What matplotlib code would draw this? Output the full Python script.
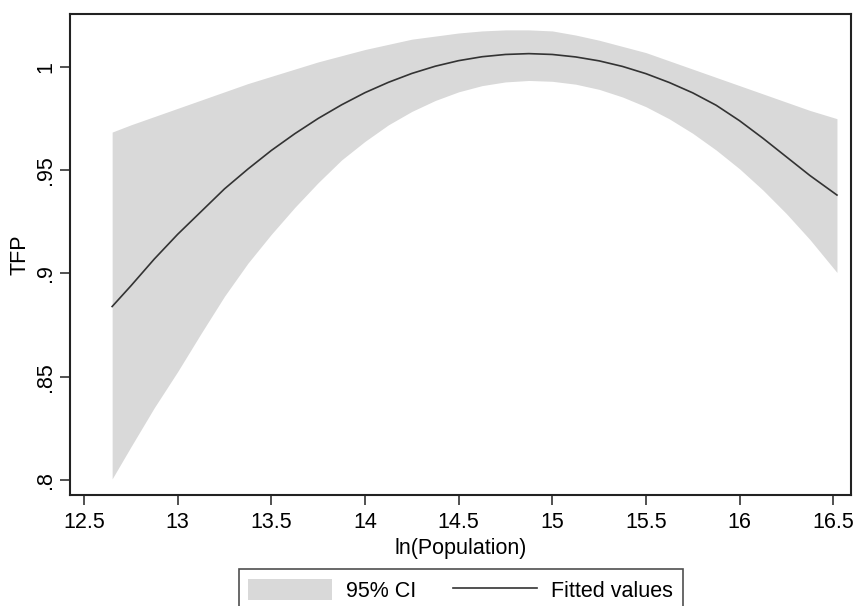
import matplotlib
matplotlib.use("Agg")
import matplotlib.pyplot as plt

plt.rcParams['font.family'] = ['Liberation Sans', 'DejaVu Sans']

# values (ln population, TFP)
ln_pop = [12.65, 12.75, 12.875, 13.0, 13.125, 13.25, 13.375, 13.5, 13.625,
          13.75, 13.875, 14.0, 14.125, 14.25, 14.375, 14.5, 14.625, 14.75,
          14.875, 15.0, 15.125, 15.25, 15.375, 15.5, 15.625, 15.75, 15.875,
          16.0, 16.125, 16.25, 16.375, 16.52]
fitted = [0.884, 0.894, 0.907, 0.919, 0.930, 0.941, 0.9506, 0.9596, 0.9677,
          0.9751, 0.9817, 0.9876, 0.9926, 0.9969, 1.0004, 1.0031, 1.005, 1.0061,
          1.0065, 1.0061, 1.0049, 1.003, 1.0003, 0.9968, 0.9925, 0.9875, 0.9815,
          0.974, 0.9655, 0.9565, 0.9475, 0.938]
ci_upper = [0.9685, 0.972, 0.976, 0.980, 0.984, 0.988, 0.992, 0.9955, 0.999,
            1.0025, 1.0055, 1.0085, 1.011, 1.0135, 1.015, 1.0165, 1.0175, 1.018,
            1.018, 1.0175, 1.0155, 1.013, 1.010, 1.007, 1.003, 0.999, 0.995,
            0.991, 0.987, 0.983, 0.979, 0.975]
ci_lower = [0.8005, 0.816, 0.835, 0.8525, 0.871, 0.889, 0.905, 0.919, 0.932,
            0.944, 0.955, 0.964, 0.972, 0.9785, 0.9838, 0.988, 0.991, 0.9928,
            0.9935, 0.9931, 0.9917, 0.9892, 0.9855, 0.9808, 0.9749, 0.9679, 0.9598,
            0.9507, 0.9404, 0.929, 0.9165, 0.9005]

xticks = [12.5, 13, 13.5, 14, 14.5, 15, 15.5, 16, 16.5]
xtick_labels = ['12.5', '13', '13.5', '14', '14.5', '15', '15.5', '16', '16.5']
yticks = [0.8, 0.85, 0.9, 0.95, 1.0]
ytick_labels = ['.8', '.85', '.9', '.95', '1']

fig = plt.figure(figsize=(8.57, 6.06), dpi=100)
ax = fig.add_axes([70/857, 1 - 495/606, 781/857, 481/606])

ax.fill_between(ln_pop, ci_lower, ci_upper, color='#d9d9d9', linewidth=0, label='95% CI')
ax.plot(ln_pop, fitted, color='#333333', linewidth=1.2, label='Fitted values')

ax.set_xlim(12.425, 16.595)
ax.set_ylim(0.7927, 1.0257)
ax.set_xticks(xticks, xtick_labels)
ax.set_yticks(yticks, ytick_labels)
ax.tick_params(axis='both', direction='out', length=7, width=1.2, labelsize=15.5,
               color='#333333')
ax.tick_params(axis='x', pad=5.5)
ax.tick_params(axis='y', pad=3)
for lab in ax.get_yticklabels():
    lab.set_rotation(90)
    lab.set_va('center')

for sp in ax.spines.values():
    sp.set_linewidth(1.5)
    sp.set_color('#222222')

ax.set_xlabel('ln(Population)', fontsize=15.5, labelpad=3)
ax.set_ylabel('TFP', fontsize=15.5, labelpad=3)

handles, labels = ax.get_legend_handles_labels()
leg = fig.legend(handles, labels, loc='upper center', ncol=2,
                 bbox_to_anchor=(460.5/857, 1 - 569/606), borderaxespad=0,
                 fontsize=15.5, frameon=True, fancybox=False,
                 handlelength=3.9, handleheight=1.15, handletextpad=0.65,
                 columnspacing=1.7, borderpad=0.45)
leg.get_frame().set_edgecolor('#222222')
leg.get_frame().set_linewidth(1.2)

fig.savefig('out.png', dpi=100)
